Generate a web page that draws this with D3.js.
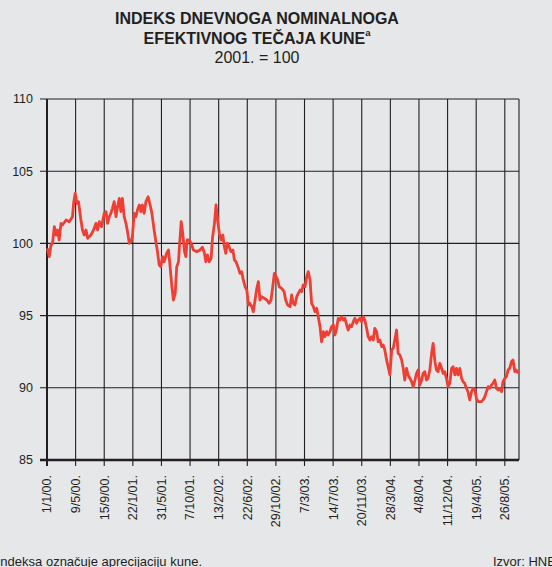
<!DOCTYPE html>
<html>
<head>
<meta charset="utf-8">
<script src="https://cdn.jsdelivr.net/npm/d3@7"></script>
<style>
  body { margin: 0; background: #e6e7e9; }
  svg { display: block; font-family: "Liberation Sans", Arial, sans-serif; }
</style>
</head>
<body>
<div id="chart"></div>
<script>
// days counted from 1/1/2000, index values
var days = [1,10,18,25,33,41,48,55,63,70,86,100,115,120,127,135,142,153,160,168,176,183,198,210,221,228,236,246,258,266,273,281,288,295,303,311,318,326,333,340,348,356,363,371,378,385,393,401,408,416,423,430,438,446,456,465,473,483,491,498,506,513,521,528,539,
  548,555,563,570,578,585,593,597,605,612,620,626,632,641,650,660,675,690,701,710,716,723,731,740,746,755,762,770,777,785,793,798,806,813,821,829,838,845,852,863,870,878,885,893,901,908,915,923,930,938,946,953,960,968,979,991,1001,1010,1016,1025,1033,1040,1047,1058,1069,1076,1085,
  1096,1103,1110,1118,1126,1133,1141,1148,1155,1163,1171,1178,1186,1193,1201,1208,1216,1223,1231,1238,1246,1253,1261,1268,1276,1283,1291,1298,1306,1313,1321,1328,1336,1343,1351,1358,1366,1373,1381,1388,1396,1403,1411,1418,1426,1433,1441,1448,1456,1463,1471,1478,1486,1493,1501,1509,1516,1523,1531,1538,1546,1554,1561,1568,1576,1583,1591,
  1599,1606,1613,1621,1628,1636,1644,1651,1659,1666,1673,1681,1689,1696,1703,1711,1718,1726,1734,1741,1749,1756,1763,1771,1779,1786,1793,1801,1808,1816,1824,1831,1839,1846,1853,1861,1869,1876,1883,1891,1898,1906,1914,1921,1929,1936,1944,1951,1959,1966,1974,1981,1989,1996,2004,2011,2019,2026,2034,2041,2049,2056,2064,2071,2079,2086,2094,2101,2109,2116,2124];

var indexValues = [99.66,99.08,99.89,100.01,101.16,100.58,100.93,100.24,101.39,101.27,101.62,101.5,101.85,102.78,103.47,102.78,102.89,101.62,100.93,100.58,100.93,100.35,100.58,100.93,101.39,100.93,101.5,101.16,102.08,102.2,101.39,101.85,102.08,102.43,102.89,101.85,102.54,103.12,102.2,103.12,101.85,101.39,100.81,100.01,100.12,100.46,102.08,101.85,102.31,102.66,102.2,102.66,102.08,102.89,103.23,102.66,102.08,100.93,100.12,99.43,98.5,98.39,99.08,98.73,99.31,
  99.54,98.39,97.0,96.08,96.54,98.39,98.73,99.77,101.5,100.7,99.43,99.08,100.24,100.24,100.01,99.54,99.43,99.54,99.73,99.31,98.73,99.2,98.73,98.97,100.35,101.39,102.66,101.5,100.7,100.24,100.58,99.89,99.31,100.01,99.77,99.43,99.54,98.85,98.73,98.28,97.93,98.04,97.47,97.0,96.77,95.73,95.85,95.62,95.27,96.08,96.89,97.35,96.08,96.31,96.2,96.08,95.85,96.08,96.77,97.93,97.69,97.47,97.0,96.89,96.66,96.08,95.73,
  95.62,96.43,95.85,95.73,96.31,96.54,96.77,96.66,97.12,97.0,97.69,98.04,97.47,95.85,95.62,95.27,95.51,94.92,94.23,93.19,93.89,93.54,93.89,93.66,93.89,94.23,94.35,93.66,94.12,94.81,94.7,94.92,94.7,94.81,94.35,94.0,94.35,94.23,94.58,94.81,94.47,94.7,94.81,94.58,94.92,94.7,94.12,93.54,93.31,93.54,93.31,94.12,93.89,93.19,93.31,92.85,92.96,92.62,91.93,91.46,90.89,92.62,92.74,93.31,94.0,92.39,92.27,
  91.93,91.35,90.54,91.35,90.89,90.66,90.42,90.08,90.54,91.0,91.23,90.19,90.54,91.0,91.12,90.54,90.66,91.23,92.39,93.08,91.81,91.23,91.12,91.7,91.35,91.0,91.12,90.66,90.08,90.31,91.35,91.46,90.89,91.35,90.89,91.35,90.66,90.42,90.31,89.97,89.73,89.16,89.73,89.97,89.85,89.27,89.04,89.04,89.04,89.16,89.38,89.73,90.08,89.97,90.19,90.31,90.54,89.97,89.85,89.97,89.73,90.42,90.66,90.77,91.23,91.35,91.81,91.93,91.12,91.23,91.0];

var tickLabels = ["1/1/00.","9/5/00.","15/9/00.","22/1/01.","31/5/01.","7/10/01.","13/2/02.","22/6/02.","29/10/02.","7/3/03.","14/7/03.","20/11/03.","28/3/04.","4/8/04.","11/12/04.","19/4/05.","26/8/05."];
var yTicks = [85, 90, 95, 100, 105, 110];

var width = 552, height = 567;
var margin = {top: 99, right: 33, bottom: 107, left: 47};

var start = new Date(2000, 0, 1);
var parseTick = d3.timeParse("%d/%m/%y.");

var data = days.map(function(d, i) {
  return {date: d3.timeDay.offset(start, d), value: indexValues[i]};
});

var svg = d3.select("#chart")
  .append("svg")
  .attr("width", width)
  .attr("height", height);

var x = d3.scaleTime()
  .domain([start, d3.timeDay.offset(start, 2128)])
  .range([margin.left, width - margin.right]);

var y = d3.scaleLinear()
  .domain([85, 110])
  .range([height - margin.bottom, margin.top]);

// titles
var title = svg.append("text")
  .attr("text-anchor", "middle")
  .style("font-weight", "bold")
  .style("font-size", "16px")
  .style("fill", "#231f20");
title.append("tspan").attr("x", 257).attr("y", 24).text("INDEKS DNEVNOGA NOMINALNOGA");
title.append("tspan").attr("x", 257).attr("y", 43.5).text("EFEKTIVNOG TEČAJA KUNE")
  .append("tspan").attr("dy", -8).style("font-size", "9.5px").text("a");

svg.append("text")
  .attr("x", 257)
  .attr("y", 62.5)
  .attr("text-anchor", "middle")
  .style("font-size", "16px")
  .style("fill", "#231f20")
  .text("2001. = 100");

// gridlines
var tickDates = tickLabels.map(function(t) { return parseTick(t); });

svg.append("g")
  .selectAll("line")
  .data(tickDates)
  .enter().append("line")
    .attr("x1", function(d) { return x(d); })
    .attr("x2", function(d) { return x(d); })
    .attr("y1", y(110))
    .attr("y2", y(85) + 6)
    .style("stroke", "#231f20")
    .style("stroke-width", 1.1);

svg.append("g")
  .selectAll("line")
  .data(yTicks)
  .enter().append("line")
    .attr("x1", margin.left - 7)
    .attr("x2", width - margin.right)
    .attr("y1", function(d) { return y(d); })
    .attr("y2", function(d) { return y(d); })
    .style("stroke", "#231f20")
    .style("stroke-width", 1.1);

// right border
svg.append("line")
  .attr("x1", width - margin.right).attr("x2", width - margin.right)
  .attr("y1", y(110)).attr("y2", y(85))
  .style("stroke", "#231f20")
  .style("stroke-width", 1.1);

// thick axes
svg.append("line")
  .attr("x1", margin.left).attr("x2", margin.left)
  .attr("y1", y(110)).attr("y2", y(85) + 6)
  .style("stroke", "#231f20")
  .style("stroke-width", 2);

svg.append("line")
  .attr("x1", margin.left - 7).attr("x2", width - margin.right)
  .attr("y1", y(85)).attr("y2", y(85))
  .style("stroke", "#231f20")
  .style("stroke-width", 2.4);

// y labels
svg.append("g")
  .selectAll("text")
  .data(yTicks)
  .enter().append("text")
    .attr("x", 33)
    .attr("y", function(d) { return y(d); })
    .attr("dy", "0.35em")
    .attr("text-anchor", "end")
    .style("font-size", "12.5px")
    .style("fill", "#231f20")
    .text(function(d) { return d; });

// x labels
svg.append("g")
  .selectAll("text")
  .data(tickDates)
  .enter().append("text")
    .attr("transform", function(d) { return "translate(" + x(d) + "," + (y(85) + 15) + ") rotate(-90)"; })
    .attr("dy", "0.35em")
    .attr("text-anchor", "end")
    .style("font-size", "12.5px")
    .style("fill", "#231f20")
    .text(function(d, i) { return tickLabels[i]; });

// the series
var line = d3.line()
  .x(function(d) { return x(d.date); })
  .y(function(d) { return y(d.value); });

svg.append("path")
  .datum(data)
  .attr("d", line)
  .style("fill", "none")
  .style("stroke", "#ef3e34")
  .style("stroke-width", 2.8)
  .style("stroke-linejoin", "round");

// footer
svg.append("text")
  .attr("x", 202)
  .attr("y", 566)
  .attr("text-anchor", "end")
  .style("font-size", "13px")
  .style("fill", "#231f20")
  .text("a Pad indeksa označuje aprecijaciju kune.");

svg.append("text")
  .attr("x", 493)
  .attr("y", 566)
  .style("font-size", "13px")
  .style("fill", "#231f20")
  .text("Izvor: HNB");
</script>
</body>
</html>
